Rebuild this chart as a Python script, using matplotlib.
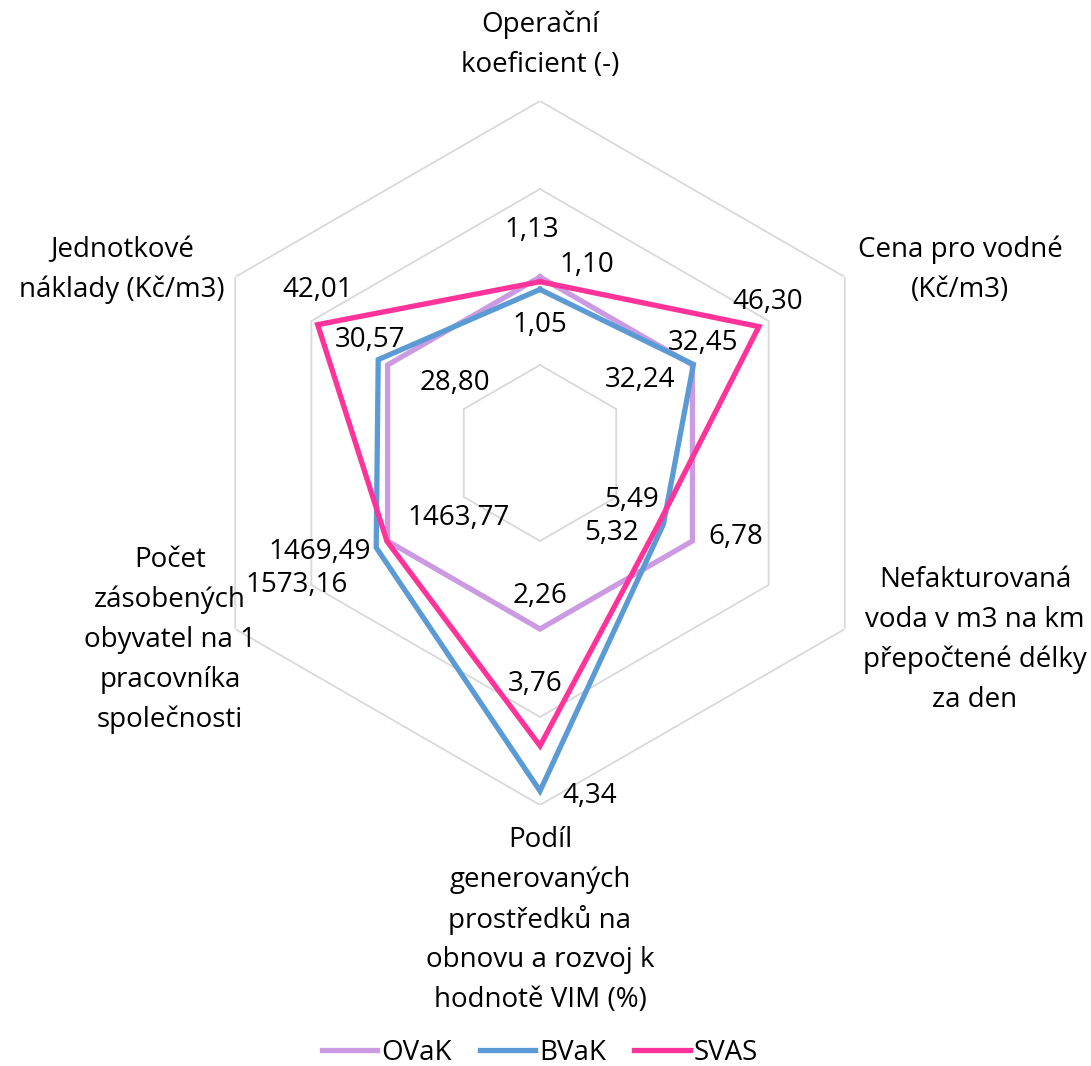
import matplotlib.pyplot as plt
import numpy as np

plt.rcParams['font.family'] = ['Open Sans', 'DejaVu Sans']

# axis names, clockwise from the top
categories = ["Operační\nkoeficient (-)",
              "Cena pro vodné\n(Kč/m3)",
              "Nefakturovaná\nvoda v m3 na km\npřepočtené délky\nza den",
              "Podíl\ngenerovaných\nprostředků na\nobnovu a rozvoj k\nhodnotě VIM (%)",
              "Počet\nzásobených\nobyvatel na 1\npracovníka\nspolečnosti",
              "Jednotkové\nnáklady (Kč/m3)"]
series = ["OVaK", "BVaK", "SVAS"]
ovak = [1.13, 32.24, 6.78, 2.26, 1463.77, 28.80]
bvak = [1.05, 32.45, 5.49, 4.34, 1573.16, 30.57]
svas = [1.10, 46.30, 5.32, 3.76, 1469.49, 42.01]
colors = ["#CC9AE3", "#5B9BD5", "#FF3399"]

W, H = 1091, 1066
fig = plt.figure(figsize=(W / 100, H / 100), dpi=100)
cx, cy, R = 540, 453, 352
ax = fig.add_axes([(cx - R) / W, (H - cy - R) / H, 2 * R / W, 2 * R / H], projection='polar')
ax.set_theta_zero_location('N')
ax.set_theta_direction(-1)
ax.set_ylim(0, 2)
ax.axis('off')

n = len(categories)
theta = np.arange(n) * 2 * np.pi / n
closed = np.append(theta, theta[0])

# hexagon grid
for g in [0.5, 1.0, 1.5, 2.0]:
    ax.plot(closed, [g] * (n + 1), color="#D9D9D9", lw=1.3, zorder=1)

# values scaled to OVaK
base = np.array(ovak)
data = [np.array(ovak), np.array(bvak), np.array(svas)]
handles = []
for vals, c, name in zip(data, colors, series):
    r = vals / base
    h, = ax.plot(closed, np.append(r, r[0]), color=c, lw=3.8, solid_joinstyle='miter',
                 label=name, zorder=3)
    handles.append(h)

# data label offsets in pixels (dx, dy screen-down)
offs = {
    "OVaK": [(-8, -47), (-52, 15), (43, -4), (0, -33), (71, -23), (67, 18)],
    "BVaK": [(0, 36), (10, -21), (-32, -24), (50, 5), (-80, 37), (-8, -20)],
    "SVAS": [(47, -17), (9, -25), (-48, 11), (-5, -62), (-67, 11), (0, -35)],
}
for vals, name in zip(data, series):
    r = vals / base
    for i in range(n):
        dx, dy = offs[name][i]
        txt = f"{vals[i]:.2f}".replace(".", ",")
        ax.annotate(txt, xy=(theta[i], r[i]), xytext=(dx, -dy), textcoords='offset pixels',
                    ha='center', va='center', fontsize=20, color='black', zorder=4)

# category labels, one text per line (top line centre in pixels)
lab_pos = [(540, 25), (960, 250), (975, 580), (540, 840), (170, 560), (122, 250)]
for txt, (x, y) in zip(categories, lab_pos):
    for k, line in enumerate(txt.split("\n")):
        fig.text(x / W, 1 - (y + 40 * k) / H, line, ha='center', va='center', fontsize=20)

fig.legend(handles=handles, loc='center', bbox_to_anchor=(540 / W, 1 - 1053 / H), ncol=3,
           frameon=False, fontsize=20, handlelength=2.0, columnspacing=1.0,
           handletextpad=0.15)

fig.savefig("out.png", dpi=100)
